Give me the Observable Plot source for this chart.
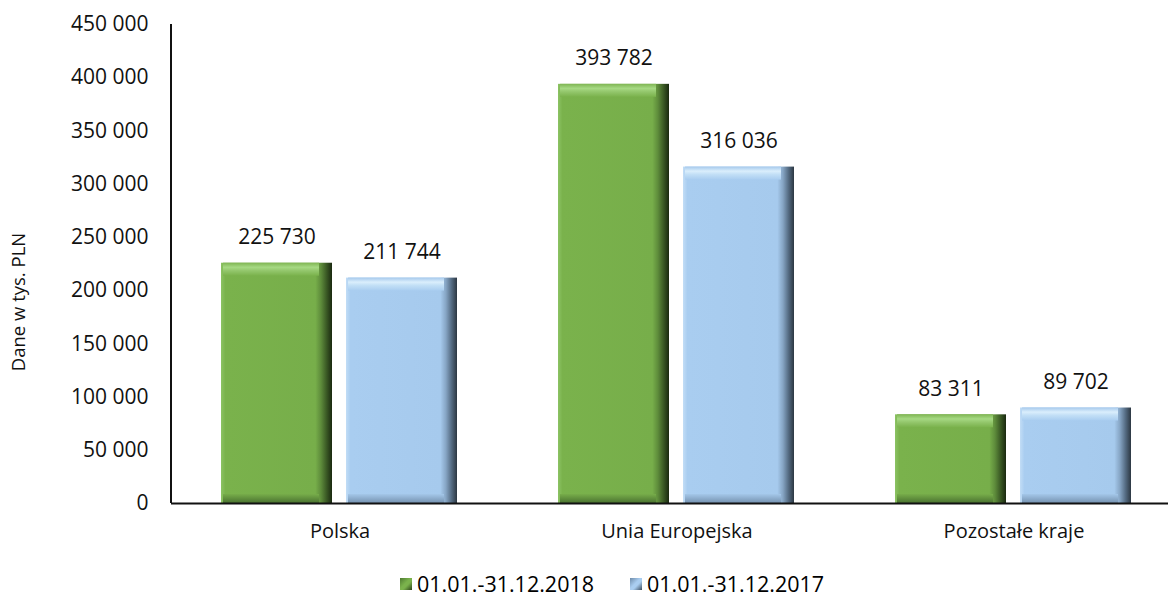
<!DOCTYPE html>
<html>
<head>
<meta charset="utf-8">
<script src="https://cdn.jsdelivr.net/npm/d3@7"></script>
<script src="https://cdn.jsdelivr.net/npm/@observablehq/plot@0.6"></script>
<style>
  html, body { margin: 0; padding: 0; background: #fff; }
  body { width: 1168px; height: 597px; overflow: hidden; font-family: "Open Sans", Lato, sans-serif; }
  #chart svg { display: block; overflow: hidden; }
  #legend { height: 42px; box-sizing: border-box; padding-top: 16px; padding-left: 400px; display: flex; align-items: center; font-size: 21.5px; line-height: 24px; color: #000; }
  .item { display: flex; align-items: center; margin-right: 36px; height: 24px; line-height: 24px; }
  .sw { width: 12px; height: 12px; margin-right: 5px; }
</style>
</head>
<body>
<div id="chart"></div>
<div id="legend"></div>
<script>
const categories = ["Polska", "Unia Europejska", "Pozostałe kraje"];
const series = ["01.01.-31.12.2018", "01.01.-31.12.2017"];
const values2018 = [225730, 393782, 83311];
const values2017 = [211744, 316036, 89702];
const yTicks = [0, 50000, 100000, 150000, 200000, 250000, 300000, 350000, 400000, 450000];

const data = categories.flatMap((c, i) => [
  {category: c, series: series[0], value: values2018[i]},
  {category: c, series: series[1], value: values2017[i]}
]);

const fmt = d => d3.format(",")(d).replace(/,/g, "\u00a0");
const isG = d => d.series === series[0];
const font = "'Open Sans', Lato, sans-serif";

const chart = Plot.plot({
  width: 1168,
  height: 555,
  marginLeft: 171,
  marginRight: 0,
  marginTop: 24,
  marginBottom: 52,
  style: {fontFamily: font, fontSize: "20px", color: "#111", background: "#fff"},
  fx: {domain: categories, range: [171, 1182], padding: 0},
  x: {domain: series, paddingInner: 0.11, paddingOuter: 0.393, axis: null},
  y: {domain: [0, 450000]},
  color: {type: "identity"},
  marks: [
    Plot.barY(data, {fx: "category", x: "series", y: "value",
      fill: d => isG(d) ? "url(#mainG)" : "url(#mainB)"}),
    Plot.barY(data, {fx: "category", x: "series", y1: "value", y2: "value",
      insetBottom: -13, insetRight: 13, insetLeft: 2,
      fill: d => isG(d) ? "url(#topG)" : "url(#topB)"}),
    Plot.barY(data, {fx: "category", x: "series", y1: 0, y2: 0,
      insetTop: -9, insetRight: 13, insetLeft: 2,
      fill: d => isG(d) ? "url(#botG)" : "url(#botB)"}),
    Plot.text(data, {fx: "category", x: "series", y: "value", text: d => fmt(d.value),
      dy: -26, fontSize: 21, fill: "#111"}),
    Plot.ruleY([0], {stroke: "#111", strokeWidth: 2}),
    Plot.axisY({ticks: yTicks, tickFormat: fmt, tickSize: 0, tickPadding: 23, label: null, fontSize: 21}),
    Plot.axisFx({anchor: "bottom", tickSize: 0, tickPadding: 20, label: null, fontSize: 20})
  ]
});

document.getElementById("chart").appendChild(chart);

const svg = d3.select(chart);
const defs = svg.insert("defs", ":first-child");
function grad(id, vertical, stops) {
  const g = defs.append("linearGradient").attr("id", id)
    .attr("x1", 0).attr("y1", 0).attr("x2", vertical ? 0 : 1).attr("y2", vertical ? 1 : 0);
  stops.forEach(([o, c]) => g.append("stop").attr("offset", o).attr("stop-color", c));
}
grad("mainG", false, [[0, "#8cc364"], [0.04, "#7ab24c"], [0.85, "#77ae4a"], [0.9, "#5e8c3b"], [0.95, "#3b5a25"], [1, "#1a2910"]]);
grad("topG", true, [[0, "#7fb553"], [0.35, "#a6d983"], [0.6, "#94c76d"], [1, "#7ab24c"]]);
grad("botG", true, [[0, "#77ad4a"], [1, "#4a7230"]]);
grad("mainB", false, [[0, "#c2ddf6"], [0.04, "#a9cdf0"], [0.85, "#a6caed"], [0.9, "#86a5c4"], [0.95, "#556c83"], [1, "#2c3742"]]);
grad("topB", true, [[0, "#a6c9ec"], [0.35, "#daeefc"], [0.6, "#c2dff6"], [1, "#a9cdf0"]]);
grad("botB", true, [[0, "#a4c7e9"], [1, "#7592b0"]]);

// y axis line drawn from the plot's own y scale
const y = chart.scale("y");
svg.append("line")
  .attr("x1", 171).attr("x2", 171)
  .attr("y1", y.apply(0)).attr("y2", y.apply(450000))
  .attr("stroke", "#111").attr("stroke-width", 2);

// y axis title
svg.append("text")
  .attr("transform", "translate(20,302) rotate(-90)")
  .attr("text-anchor", "middle")
  .attr("dominant-baseline", "middle")
  .attr("font-family", font)
  .attr("font-size", 18.5)
  .attr("fill", "#111")
  .text("Dane w tys. PLN");

// legend
const swatches = [
  "linear-gradient(135deg, #4d7a30 0%, #7ab24c 45%, #7ab24c 60%, #2a4019 100%)",
  "linear-gradient(135deg, #6d8aa8 0%, #a9cdf0 45%, #a9cdf0 60%, #3a4a5a 100%)"
];
const legend = d3.select("#legend");
series.forEach((s, i) => {
  const it = legend.append("div").attr("class", "item");
  it.append("div").attr("class", "sw").style("background", swatches[i]);
  it.append("span").text(s);
});
</script>
</body>
</html>
